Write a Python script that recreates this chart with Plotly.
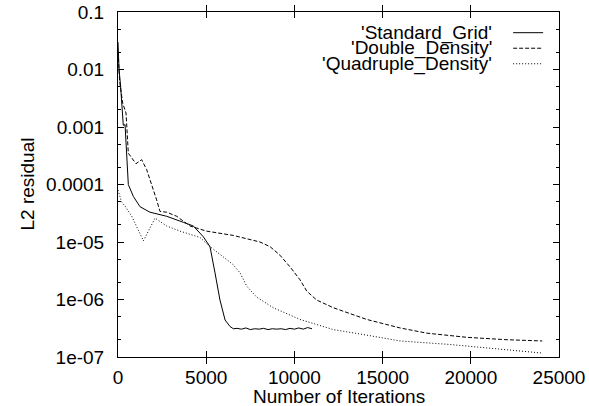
import plotly.graph_objects as go

# ---- data ----
std_x = [0, 60, 150, 300, 400, 585, 870, 1250, 1810, 2760, 3700, 4270, 4840, 5215, 5500, 5780, 6070, 6350, 6540,
         6750, 7000, 7250, 7500, 7750, 8000, 8250, 8500, 8750, 9000, 9250, 9500, 9750, 10000, 10250, 10500, 10750, 11000]
std_y = [3.0e-2, 1.0e-2, 5.0e-3, 1.07e-3, 1.1e-3, 1.0e-4, 6.2e-5, 4.1e-5, 3.3e-5, 2.8e-5, 2.2e-5, 1.9e-5, 1.23e-5, 8.3e-6, 2.9e-6, 9.8e-7, 4.4e-7, 3.4e-7, 3.1e-7,
         3.15e-7, 3.05e-7, 3.2e-7, 3.0e-7, 3.1e-7, 3.05e-7, 3.15e-7, 3.0e-7, 3.1e-7, 3.05e-7, 3.1e-7, 3.0e-7, 3.15e-7, 3.05e-7, 3.2e-7, 3.05e-7, 3.25e-7, 3.1e-7]

dbl_x = [0, 100, 265, 455, 585, 800, 1020, 1340, 1630, 2190, 2380, 2760, 3330, 4080, 5000, 6540, 7500, 8050, 8620, 9180, 9750,
         10320, 10700, 11260, 12200, 13150, 14100, 15990, 17500, 19770, 22000, 24050]
dbl_y = [2.0e-2, 6.0e-3, 2.6e-3, 1.75e-3, 3.5e-4, 2.9e-4, 2.3e-4, 2.7e-4, 1.8e-4, 5.4e-5, 3.4e-5, 3.3e-5, 2.8e-5, 1.9e-5, 1.55e-5, 1.3e-5, 1.1e-5, 1.0e-5, 8.3e-6, 5.9e-6, 3.7e-6,
         2.2e-6, 1.4e-6, 9.8e-7, 7.2e-7, 5.7e-7, 4.5e-7, 3.2e-7, 2.6e-7, 2.2e-7, 2.0e-7, 1.9e-7]

quad_x = [0, 200, 400, 780, 1440, 2100, 2760, 3500, 4650, 5215, 5970, 6540, 6920, 7300, 7860, 8800, 10320, 12200, 14100, 15990, 18820, 21500, 24050]
quad_y = [8.0e-5, 5.0e-5, 4.2e-5, 2.8e-5, 1.05e-5, 2.6e-5, 1.9e-5, 1.55e-5, 1.2e-5, 8.3e-6, 5.5e-6, 4.0e-6, 2.9e-6, 1.7e-6, 1.1e-6, 7.2e-7, 4.5e-7, 3.0e-7, 2.4e-7, 1.9e-7, 1.65e-7, 1.4e-7, 1.17e-7]

series_names = ["'Standard_Grid'", "'Double_Density'", "'Quadruple_Density'"]
y_tickvals = [1e-7, 1e-6, 1e-5, 1e-4, 1e-3, 1e-2, 1e-1]
y_ticktext = ["1e-07", "1e-06", "1e-05", "0.0001", "0.001", "0.01", "0.1"]
y_minor_tickvals = [m * 10.0 ** e for e in range(-7, -1) for m in (2, 5)]
x_tickvals = [0, 5000, 10000, 15000, 20000, 25000]
x_ticktext = ["0", "5000", "10000", "15000", "20000", "25000"]
x_title = "Number of Iterations"
y_title = "L2 residual"

FONT = "Liberation Sans, Arial, Helvetica, sans-serif"
FS = 19
dashes = ["solid", "4px,2px", "1px,2px"]
yrefs = ["y", "y", "y2"]

fig = go.Figure()
for xs, ys, name, d, yr in zip([std_x, dbl_x, quad_x], [std_y, dbl_y, quad_y], series_names, dashes, yrefs):
    fig.add_trace(go.Scatter(x=xs, y=ys, mode="lines", name=name, yaxis=yr,
                             line=dict(color="black", width=1, dash=d), showlegend=False))

# legend drawn gnuplot-style: right-aligned text, sample on the right
leg_y = [0.940, 0.895, 0.850]
for name, d, yy in zip(series_names, dashes, leg_y):
    fig.add_annotation(xref="paper", yref="paper", x=0.852, y=yy, text=name, showarrow=False,
                       xanchor="right", yanchor="middle", font=dict(family=FONT, size=FS, color="black"))
    fig.add_shape(type="line", xref="paper", yref="paper", x0=0.896, x1=0.964, y0=yy, y1=yy,
                  line=dict(color="black", width=1, dash=d))

# axis titles
fig.add_annotation(xref="paper", yref="paper", x=0.5, y=0, yshift=-39, text=x_title, showarrow=False,
                   xanchor="center", yanchor="middle", font=dict(family=FONT, size=FS, color="black"))
fig.add_annotation(xref="paper", yref="paper", x=0, y=0.5, xshift=-91, text=y_title, showarrow=False,
                   textangle=-90, xanchor="center", yanchor="middle", font=dict(family=FONT, size=FS, color="black"))

axis_common = dict(showline=True, mirror="allticks", linecolor="black", linewidth=1,
                   ticks="inside", ticklen=6, tickcolor="black", showgrid=False, zeroline=False,
                   tickfont=dict(family=FONT, size=FS, color="black"))

fig.update_layout(
    xaxis=dict(range=[0, 25000], tickvals=x_tickvals, ticktext=x_ticktext, ticklabelstandoff=3, **axis_common),
    yaxis=dict(type="log", range=[-7, -1], tickvals=y_tickvals, ticktext=y_ticktext, ticklabelstandoff=9, **axis_common),
    yaxis2=dict(type="log", range=[-7, -1], overlaying="y", side="left", tickvals=y_minor_tickvals,
                showticklabels=False, ticks="inside", ticklen=3, tickcolor="black", mirror="ticks",
                showline=False, showgrid=False, zeroline=False),
    width=589, height=406, margin=dict(l=118, r=30, t=12, b=49, autoexpand=False),
    plot_bgcolor="white", paper_bgcolor="white", font=dict(family=FONT, size=FS))
fig.write_html("out.html")
